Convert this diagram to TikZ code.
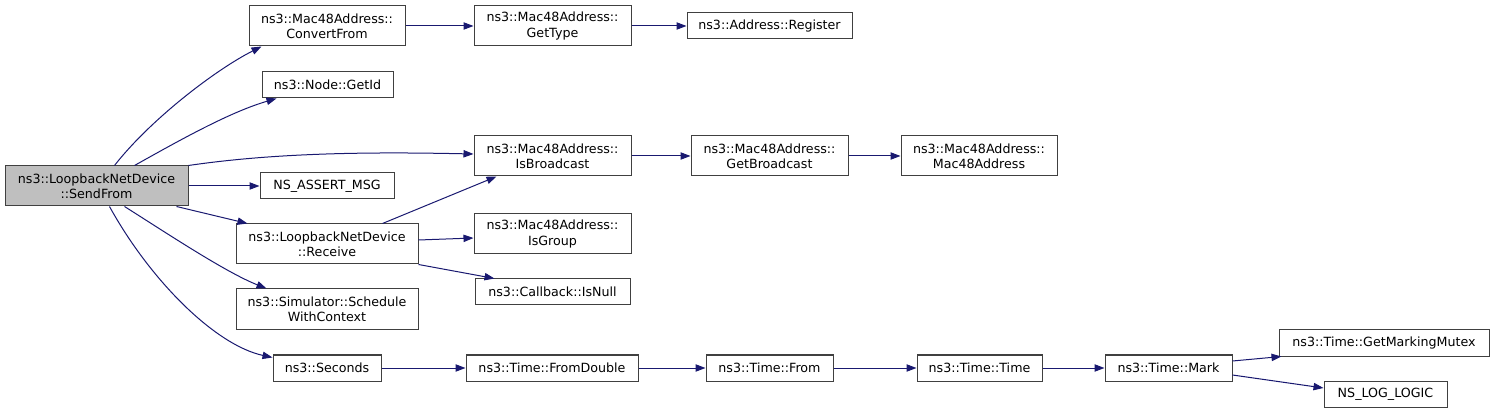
\documentclass[tikz,border=0pt]{standalone}
\usepackage{fontspec}
\setmainfont{DejaVu Sans}
\usetikzlibrary{arrows.meta,calc}
\definecolor{edgeblue}{HTML}{191970}
\definecolor{boxline}{HTML}{404040}
\tikzset{
  fn/.style={draw=boxline, line width=0.75pt, fill=white, inner sep=0pt, align=center,
    font=\fontsize{9.5pt}{11.3pt}\selectfont},
  mainfn/.style={fn, fill=black!25},
  call/.style={draw=edgeblue, line width=0.75pt, -{Triangle[length=7.5pt,width=5.5pt]}, fill=none},
}
\begin{document}
\begin{tikzpicture}[x=0.75pt,y=-0.75pt]
\useasboundingbox (0,0) rectangle (1496,413);
% nodes
\node[mainfn, minimum width=137.25pt, minimum height=30pt] (send) at (96.5,186) {ns3::LoopbackNetDevice\\::SendFrom};
\node[fn, minimum width=117pt, minimum height=30pt] (conv) at (327,26) {ns3::Mac48Address::\\ConvertFrom};
\node[fn, minimum width=117.75pt, minimum height=30pt] (gettype) at (552.5,26) {ns3::Mac48Address::\\GetType};
\node[fn, minimum width=123.75pt, minimum height=19.5pt] (reg) at (769.5,26) {ns3::Address::Register};
\node[fn, minimum width=98.25pt, minimum height=19.5pt] (getid) at (327.5,85) {ns3::Node::GetId};
\node[fn, minimum width=117.75pt, minimum height=30pt] (isb) at (552.5,156) {ns3::Mac48Address::\\IsBroadcast};
\node[fn, minimum width=117.75pt, minimum height=30pt] (getb) at (769.5,156) {ns3::Mac48Address::\\GetBroadcast};
\node[fn, minimum width=117pt, minimum height=30pt] (mac) at (979,156) {ns3::Mac48Address::\\Mac48Address};
\node[fn, minimum width=100.5pt, minimum height=19.5pt] (assert) at (327,186) {NS\_ASSERT\_MSG};
\node[fn, minimum width=136.5pt, minimum height=30pt] (recv) at (327,244) {ns3::LoopbackNetDevice\\::Receive};
\node[fn, minimum width=117.75pt, minimum height=30pt] (isgroup) at (552.5,234) {ns3::Mac48Address::\\IsGroup};
\node[fn, minimum width=116.25pt, minimum height=19.5pt] (isnull) at (552.5,292) {ns3::Callback::IsNull};
\node[fn, minimum width=136.5pt, minimum height=30.75pt] (sched) at (327,309.5) {ns3::Simulator::Schedule\\WithContext};
\node[fn, minimum width=81pt, minimum height=19.5pt] (secs) at (327,368) {ns3::Seconds};
\node[fn, minimum width=129pt, minimum height=19.5pt] (fromd) at (552,368) {ns3::Time::FromDouble};
\node[fn, minimum width=95.25pt, minimum height=19.5pt] (from) at (769.5,368) {ns3::Time::From};
\node[fn, minimum width=93.75pt, minimum height=19.5pt] (time) at (979.5,368) {ns3::Time::Time};
\node[fn, minimum width=95.25pt, minimum height=19.5pt] (mark) at (1168.5,368) {ns3::Time::Mark};
\node[fn, minimum width=157.5pt, minimum height=19.5pt] (mutex) at (1384,343) {ns3::Time::GetMarkingMutex};
\node[fn, minimum width=92.25pt, minimum height=19.5pt] (nslog) at (1385.5,394) {NS\_LOG\_LOGIC};
% edges from SendFrom
\draw[call] ($(send.north west)+(110,0)$) .. controls (150,120) and (215,70) .. ($(conv.south west)+(13,0)$);
\draw[call] ($(send.north west)+(130,0)$) .. controls (180,140) and (230,112) .. ($(getid.south west)+(15,0)$);
\draw[call] (send.north east) .. controls (280,152) and (380,152) .. ($(isb.west)+(0,-2)$);
\draw[call] (send.east) -- (assert.west);
\draw[call] ($(send.south east)+(-12,0)$) -- ($(recv.north west)+(12,0)$);
\draw[call] ($(send.south west)+(120,0)$) .. controls (165,232) and (225,272) .. ($(sched.north west)+(31,0)$);
\draw[call] ($(send.south west)+(105,0)$) .. controls (150,280) and (215,345) .. ($(secs.north west)+(0,3)$);
% other edges
\draw[call] ($(recv.north west)+(147,0)$) -- ($(isb.south west)+(23,0)$);
\draw[call] ($(recv.east)+(0,-4)$) -- ($(isgroup.west)+(0,4)$);
\draw[call] (recv.south east) -- ($(isnull.north west)+(20,0)$);
\draw[call] (conv) -- (gettype);
\draw[call] (gettype) -- (reg);
\draw[call] (isb) -- (getb);
\draw[call] (getb) -- (mac);
\draw[call] (secs) -- (fromd);
\draw[call] (fromd) -- (from);
\draw[call] (from) -- (time);
\draw[call] (time) -- (mark);
\draw[call] ($(mark.east)+(0,-7)$) -- ($(mutex.south west)+(3,0)$);
\draw[call] ($(mark.east)+(0,7)$) -- ($(nslog.west)+(0,-6)$);
\end{tikzpicture}
\end{document}
